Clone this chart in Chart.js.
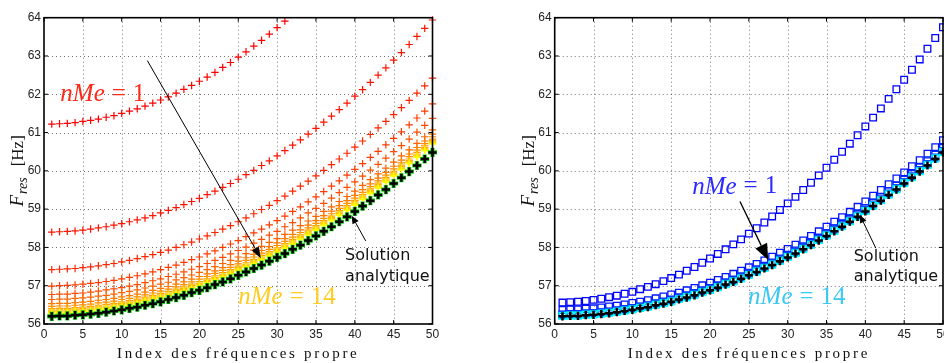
<!DOCTYPE html>
<html>
<head>
<meta charset="utf-8">
<script src="https://cdn.jsdelivr.net/npm/chart.js@4.4.0/dist/chart.umd.min.js"></script>
<style>
  html, body { margin: 0; padding: 0; background: #fff; }
  #wrap { position: relative; width: 944px; height: 363px; overflow: hidden; }
  canvas { position: absolute; top: 0; }
  #left { left: 0; }
  #right { left: 472px; }
</style>
</head>
<body>
<div id="wrap">
  <canvas id="left" width="472" height="363"></canvas>
  <canvas id="right" width="472" height="363"></canvas>
</div>
<script>
// index of the eigenfrequency (x) and the tick labels
const indices = [1,2,3,4,5,6,7,8,9,10,11,12,13,14,15,16,17,18,19,20,21,22,23,24,25,
  26,27,28,29,30,31,32,33,34,35,36,37,38,39,40,41,42,43,44,45,46,47,48,49,50];
const xTicks = [0, 5, 10, 15, 20, 25, 30, 35, 40, 45, 50];
const yTicks = [56, 57, 58, 59, 60, 61, 62, 63, 64];

// analytical solution (black +), both panels
const solution = [56.20,56.21,56.21,56.23,56.24,56.26,56.28,56.31,56.34,56.37,
  56.41,56.44,56.49,56.53,56.58,56.64,56.69,56.75,56.82,56.88,
  56.95,57.03,57.10,57.18,57.27,57.36,57.45,57.54,57.64,57.74,
  57.84,57.95,58.06,58.18,58.30,58.42,58.54,58.67,58.80,58.94,
  59.08,59.22,59.37,59.51,59.67,59.82,59.98,60.14,60.31,60.48];

// left panel : nMe = 1 .. 14
const leftMe1 = [61.22,61.23,61.24,61.26,61.29,61.32,61.35,61.40,61.44,61.50,
  61.56,61.62,61.69,61.77,61.85,61.93,62.03,62.13,62.23,62.34,
  62.45,62.57,62.70,62.83,62.97,63.11,63.26,63.41,63.57,63.74,63.91];
const leftMe2 = [58.40,58.41,58.42,58.43,58.45,58.48,58.51,58.54,58.58,58.62,
  58.67,58.72,58.77,58.83,58.90,58.97,59.04,59.12,59.20,59.28,
  59.38,59.47,59.57,59.67,59.78,59.90,60.01,60.14,60.26,60.39,
  60.53,60.67,60.81,60.96,61.11,61.27,61.43,61.60,61.77,61.95,
  62.12,62.31,62.50,62.69,62.89,63.09,63.30,63.51,63.72,63.94];
const leftMe3 = [57.42,57.43,57.44,57.45,57.47,57.49,57.52,57.55,57.58,57.62,
  57.66,57.71,57.76,57.81,57.87,57.93,58.00,58.07,58.14,58.22,
  58.30,58.39,58.48,58.57,58.67,58.77,58.88,58.99,59.10,59.22,
  59.34,59.47,59.60,59.73,59.87,60.01,60.16,60.31,60.46,60.62,
  60.78,60.95,61.12,61.29,61.47,61.65,61.84,62.03,62.22,62.42];
const leftMe4 = [56.99,57.00,57.01,57.02,57.04,57.06,57.08,57.11,57.14,57.18,
  57.22,57.26,57.31,57.36,57.42,57.48,57.54,57.61,57.68,57.75,
  57.83,57.91,58.00,58.09,58.18,58.28,58.38,58.48,58.59,58.70,
  58.82,58.94,59.06,59.19,59.32,59.46,59.60,59.74,59.89,60.04,
  60.19,60.35,60.51,60.68,60.85,61.02,61.20,61.38,61.56,61.75];
const leftMe5 = [56.77,56.78,56.78,56.80,56.81,56.83,56.86,56.89,56.92,56.95,
  56.99,57.03,57.08,57.13,57.18,57.24,57.30,57.36,57.43,57.50,
  57.58,57.66,57.74,57.83,57.92,58.01,58.11,58.21,58.32,58.42,
  58.54,58.65,58.77,58.90,59.02,59.15,59.29,59.43,59.57,59.71,
  59.86,60.02,60.17,60.33,60.50,60.66,60.83,61.01,61.19,61.37];
const leftMe6 = [56.64,56.65,56.65,56.67,56.68,56.70,56.73,56.75,56.78,56.82,
  56.85,56.89,56.94,56.99,57.04,57.09,57.15,57.21,57.28,57.35,
  57.42,57.50,57.58,57.66,57.75,57.84,57.93,58.03,58.13,58.23,
  58.34,58.45,58.57,58.69,58.81,58.94,59.06,59.20,59.33,59.47,
  59.62,59.77,59.92,60.07,60.23,60.39,60.55,60.72,60.89,61.07];
const leftMe7 = [56.53,56.54,56.54,56.56,56.57,56.59,56.62,56.64,56.67,56.71,
  56.74,56.78,56.83,56.88,56.93,56.98,57.04,57.10,57.17,57.24,
  57.31,57.39,57.47,57.55,57.64,57.73,57.82,57.92,58.02,58.12,
  58.23,58.34,58.46,58.58,58.70,58.83,58.95,59.09,59.22,59.36,
  59.51,59.66,59.81,59.96,60.12,60.28,60.44,60.61,60.78,60.96];
const leftMe8 = [56.46,56.47,56.47,56.49,56.50,56.52,56.55,56.57,56.60,56.64,
  56.67,56.71,56.76,56.81,56.86,56.91,56.97,57.03,57.10,57.17,
  57.24,57.32,57.40,57.48,57.57,57.66,57.75,57.85,57.95,58.05,
  58.16,58.27,58.39,58.51,58.63,58.76,58.88,59.02,59.15,59.29,
  59.44,59.59,59.74,59.89,60.05,60.21,60.37,60.54,60.71,60.89];
const leftMe9 = [56.40,56.41,56.41,56.43,56.44,56.46,56.49,56.51,56.54,56.58,
  56.61,56.65,56.70,56.75,56.80,56.85,56.91,56.97,57.04,57.11,
  57.18,57.26,57.34,57.42,57.51,57.60,57.69,57.79,57.89,57.99,
  58.10,58.21,58.33,58.45,58.57,58.70,58.82,58.96,59.09,59.23,
  59.38,59.53,59.68,59.83,59.99,60.15,60.31,60.48,60.65,60.83];
const leftMe10 = [56.36,56.37,56.37,56.39,56.40,56.42,56.45,56.47,56.50,56.54,
  56.57,56.61,56.66,56.71,56.76,56.81,56.87,56.93,57.00,57.07,
  57.14,57.22,57.30,57.38,57.47,57.56,57.65,57.75,57.85,57.95,
  58.06,58.17,58.29,58.41,58.53,58.66,58.78,58.92,59.05,59.19,
  59.34,59.49,59.64,59.79,59.95,60.11,60.27,60.44,60.61,60.79];
const leftMe11 = [56.33,56.34,56.34,56.36,56.37,56.39,56.42,56.44,56.47,56.51,
  56.54,56.58,56.63,56.68,56.73,56.78,56.84,56.90,56.97,57.04,
  57.11,57.19,57.27,57.35,57.44,57.53,57.62,57.72,57.82,57.92,
  58.03,58.14,58.26,58.38,58.50,58.63,58.75,58.89,59.02,59.16,
  59.31,59.46,59.61,59.76,59.92,60.08,60.24,60.41,60.58,60.76];
const leftMe12 = [56.31,56.32,56.32,56.34,56.35,56.37,56.40,56.42,56.45,56.49,
  56.52,56.56,56.61,56.66,56.71,56.76,56.82,56.88,56.95,57.02,
  57.09,57.17,57.25,57.33,57.42,57.51,57.60,57.70,57.80,57.90,
  58.01,58.12,58.24,58.36,58.48,58.61,58.73,58.87,59.00,59.14,
  59.29,59.44,59.59,59.74,59.90,60.06,60.22,60.39,60.56,60.74];
const leftMe13 = [56.29,56.30,56.30,56.32,56.33,56.35,56.38,56.40,56.43,56.47,
  56.50,56.54,56.59,56.64,56.69,56.74,56.80,56.86,56.93,57.00,
  57.07,57.15,57.23,57.31,57.40,57.49,57.58,57.68,57.78,57.88,
  57.99,58.10,58.22,58.34,58.46,58.59,58.71,58.85,58.98,59.12,
  59.27,59.42,59.57,59.72,59.88,60.04,60.20,60.37,60.54,60.72];
const leftMe14 = [56.27,56.28,56.28,56.30,56.31,56.33,56.36,56.38,56.41,56.45,
  56.48,56.52,56.57,56.62,56.67,56.72,56.78,56.84,56.91,56.98,
  57.05,57.13,57.21,57.29,57.38,57.47,57.56,57.66,57.76,57.86,
  57.97,58.08,58.20,58.32,58.44,58.57,58.69,58.83,58.96,59.10,
  59.25,59.40,59.55,59.70,59.86,60.02,60.18,60.35,60.52,60.70];

// right panel : nMe = 1 .. 14 (squares)
const rightMe1 = [56.56,56.57,56.58,56.60,56.63,56.66,56.70,56.74,56.79,56.84,
  56.91,56.97,57.04,57.12,57.20,57.29,57.39,57.49,57.60,57.71,
  57.83,57.95,58.08,58.21,58.36,58.50,58.65,58.81,58.98,59.15,
  59.32,59.50,59.69,59.88,60.08,60.29,60.50,60.71,60.93,61.16,
  61.39,61.63,61.88,62.13,62.38,62.64,62.91,63.19,63.47,63.75];
const rightMe2 = [56.37,56.38,56.38,56.40,56.41,56.43,56.46,56.48,56.51,56.55,
  56.58,56.62,56.67,56.72,56.77,56.82,56.88,56.94,57.01,57.08,
  57.15,57.23,57.31,57.39,57.48,57.57,57.66,57.76,57.86,57.96,
  58.07,58.18,58.30,58.42,58.54,58.67,58.79,58.93,59.06,59.20,
  59.35,59.50,59.65,59.80,59.96,60.12,60.28,60.45,60.62,60.80];
const rightMe3 = [56.25,56.26,56.26,56.28,56.29,56.31,56.33,56.36,56.39,56.42,
  56.46,56.49,56.54,56.59,56.64,56.70,56.75,56.81,56.88,56.94,
  57.01,57.09,57.16,57.25,57.34,57.43,57.52,57.61,57.71,57.81,
  57.92,58.03,58.14,58.26,58.38,58.50,58.63,58.76,58.89,59.03,
  59.17,59.31,59.47,59.61,59.77,59.92,60.09,60.25,60.42,60.60];
const rightMe4 = [56.24,56.25,56.25,56.27,56.28,56.30,56.32,56.35,56.38,56.41,
  56.45,56.48,56.53,56.57,56.62,56.68,56.73,56.79,56.86,56.92,
  56.99,57.07,57.14,57.22,57.31,57.40,57.49,57.58,57.68,57.78,
  57.88,57.99,58.10,58.22,58.34,58.46,58.58,58.71,58.84,58.98,
  59.12,59.26,59.41,59.55,59.71,59.86,60.02,60.18,60.35,60.52];
const rightMe8 = [56.22,56.23,56.23,56.25,56.26,56.28,56.30,56.33,56.36,56.39,
  56.43,56.46,56.51,56.55,56.60,56.66,56.71,56.77,56.84,56.90,
  56.97,57.05,57.12,57.20,57.29,57.38,57.47,57.56,57.66,57.76,
  57.86,57.97,58.08,58.20,58.32,58.44,58.56,58.69,58.82,58.96,
  59.10,59.24,59.39,59.53,59.69,59.84,60.00,60.16,60.33,60.50];
const rightMe14 = [56.21,56.22,56.22,56.24,56.25,56.27,56.29,56.32,56.35,56.38,
  56.42,56.45,56.50,56.54,56.59,56.65,56.70,56.76,56.83,56.89,
  56.96,57.04,57.11,57.19,57.28,57.37,57.46,57.55,57.65,57.75,
  57.85,57.96,58.07,58.19,58.31,58.43,58.55,58.68,58.81,58.95,
  59.09,59.23,59.38,59.52,59.68,59.83,59.99,60.15,60.32,60.49];

const leftSeries = [leftMe1, leftMe2, leftMe3, leftMe4, leftMe5, leftMe6, leftMe7,
  leftMe8, leftMe9, leftMe10, leftMe11, leftMe12, leftMe13, leftMe14];
const rightSeries = [[rightMe1, 1], [rightMe2, 2], [rightMe3, 3], [rightMe4, 4], [rightMe8, 8], [rightMe14, 14]];

// text and arrows, in data units
const notes = {
  left: [
    {type: 'math', x: 2.1, y: 62.0, val: '1', color: '#ff2a1a'},
    {type: 'arrow', from: [13.3, 62.88], to: [27.9, 57.72], len: 11, half: 4, lw: 1},
    {type: 'math', x: 25.0, y: 56.69, val: '14', color: '#ffcc22'},
    {type: 'text', x: 38.75, y: 57.78, text: 'Solution'},
    {type: 'text', x: 38.75, y: 57.24, text: 'analytique'},
    {type: 'arrow', from: [41.4, 58.17], to: [39.6, 58.83], len: 8, half: 3.5, lw: 1}
  ],
  right: [
    {type: 'math', x: 17.7, y: 59.58, val: '1', color: '#2b2bff'},
    {type: 'arrow', from: [23.86, 59.2], to: [27.49, 57.67], len: 16, half: 6.5, lw: 1.3},
    {type: 'math', x: 24.9, y: 56.69, val: '14', color: '#3cc8f5'},
    {type: 'text', x: 38.5, y: 57.76, text: 'Solution'},
    {type: 'text', x: 38.5, y: 57.24, text: 'analytique'},
    {type: 'arrow', from: [41.35, 57.98], to: [39.29, 58.85], len: 8, half: 3.5, lw: 1}
  ]
};

const points = arr => arr.map((v, i) => ({x: indices[i], y: v}));

const marker = (arr, color, style, r, w) => ({
  data: points(arr),
  showLine: false,
  clip: false,
  pointStyle: style,
  pointRadius: r,
  pointHoverRadius: r,
  pointBorderWidth: w,
  pointBorderColor: color,
  pointBackgroundColor: 'rgba(0,0,0,0)'
});

function drawArrow(ctx, x1, y1, x2, y2, len, half, lw) {
  const ang = Math.atan2(y2 - y1, x2 - x1);
  const bx = x2 - len * Math.cos(ang), by = y2 - len * Math.sin(ang);
  ctx.lineWidth = lw;
  ctx.beginPath(); ctx.moveTo(x1, y1); ctx.lineTo(bx, by); ctx.stroke();
  ctx.beginPath();
  ctx.moveTo(x2, y2);
  ctx.lineTo(bx + half * Math.sin(ang), by - half * Math.cos(ang));
  ctx.lineTo(bx - half * Math.sin(ang), by + half * Math.cos(ang));
  ctx.closePath(); ctx.fill();
}

const matlabLook = {
  id: 'matlabLook',
  beforeDatasetsDraw(chart) {
    const {ctx, chartArea: a, scales: {x, y}} = chart;
    ctx.save();
    ctx.strokeStyle = 'rgba(0,0,0,0.55)';
    ctx.lineWidth = 1;
    ctx.setLineDash([1, 3]);
    x.ticks.forEach(t => {
      if (t.value <= x.min || t.value >= x.max) return;
      const px = Math.round(x.getPixelForValue(t.value)) + 0.5;
      ctx.beginPath(); ctx.moveTo(px, a.top); ctx.lineTo(px, a.bottom); ctx.stroke();
    });
    y.ticks.forEach(t => {
      if (t.value <= y.min || t.value >= y.max) return;
      const py = Math.round(y.getPixelForValue(t.value)) + 0.5;
      ctx.beginPath(); ctx.moveTo(a.left, py); ctx.lineTo(a.right, py); ctx.stroke();
    });
    ctx.restore();
  },
  afterDatasetsDraw(chart) {
    const {ctx, chartArea: a, scales: {x, y}} = chart;
    ctx.save();
    // box and inward ticks
    ctx.strokeStyle = '#000';
    ctx.fillStyle = '#000';
    ctx.lineWidth = 1;
    x.ticks.forEach(t => {
      const px = x.getPixelForValue(t.value);
      ctx.beginPath();
      ctx.moveTo(px, a.bottom); ctx.lineTo(px, a.bottom - 4);
      ctx.moveTo(px, a.top); ctx.lineTo(px, a.top + 4);
      ctx.stroke();
    });
    y.ticks.forEach(t => {
      const py = y.getPixelForValue(t.value);
      ctx.beginPath();
      ctx.moveTo(a.left, py); ctx.lineTo(a.left + 4, py);
      ctx.moveTo(a.right, py); ctx.lineTo(a.right - 4, py);
      ctx.stroke();
    });
    ctx.lineWidth = 1.6;
    ctx.strokeRect(a.left, a.top, a.right - a.left, a.bottom - a.top);

    // x title
    ctx.fillStyle = '#111';
    ctx.font = '15px "Liberation Serif"';
    ctx.letterSpacing = '2.7px';
    ctx.textAlign = 'center';
    ctx.textBaseline = 'middle';
    ctx.fillText('Index des fréquences propre', (a.left + a.right) / 2, a.bottom + 30);
    ctx.letterSpacing = '0px';

    // y title : F_res [Hz]
    ctx.save();
    ctx.translate(a.left - 21, (a.top + a.bottom) / 2);
    ctx.rotate(-Math.PI / 2);
    ctx.textAlign = 'left';
    ctx.textBaseline = 'alphabetic';
    const fF = 'italic 19px "Liberation Serif"', fS = 'italic 14px "Liberation Serif"', fH = '17px "Liberation Serif"';
    ctx.font = fF; const wF = ctx.measureText('F').width;
    ctx.font = fS; const wS = ctx.measureText('res').width;
    ctx.font = fH; const wH = ctx.measureText('[Hz]').width;
    const gap = 11;
    let sx = -(wF + 1 + wS + gap + wH) / 2;
    ctx.font = fF; ctx.fillText('F', sx, 0);
    ctx.font = fS; ctx.fillText('res', sx + wF + 1, 4);
    ctx.font = fH; ctx.fillText('[Hz]', sx + wF + 1 + wS + gap, 0);
    ctx.restore();

    // notes
    (notes[chart.canvas.id] || []).forEach(n => {
      if (n.type === 'math') {
        const px = x.getPixelForValue(n.x), py = y.getPixelForValue(n.y);
        ctx.fillStyle = n.color;
        ctx.textAlign = 'left';
        ctx.textBaseline = 'middle';
        ctx.font = 'italic 25px "Liberation Serif"';
        ctx.fillText('nMe', px, py);
        let cx = px + ctx.measureText('nMe').width + 7;
        ctx.font = '25px "Liberation Serif"';
        ctx.fillText('=', cx, py);
        cx += ctx.measureText('=').width + 7;
        ctx.fillText(n.val, cx, py);
      } else if (n.type === 'text') {
        ctx.fillStyle = '#111';
        ctx.textAlign = 'left';
        ctx.textBaseline = 'middle';
        ctx.font = '16px "DejaVu Sans"';
        ctx.fillText(n.text, x.getPixelForValue(n.x), y.getPixelForValue(n.y));
      } else if (n.type === 'arrow') {
        ctx.strokeStyle = '#000';
        ctx.fillStyle = '#000';
        drawArrow(ctx,
          x.getPixelForValue(n.from[0]), y.getPixelForValue(n.from[1]),
          x.getPixelForValue(n.to[0]), y.getPixelForValue(n.to[1]),
          n.len, n.half, n.lw);
      }
    });
    ctx.restore();
  }
};

function makeChart(id, datasets, padLeft, padRight) {
  // Chart.js paints dataset 0 last (on top), so hand them over in reverse
  return new Chart(document.getElementById(id), {
    type: 'scatter',
    data: {datasets: datasets.slice().reverse()},
    plugins: [matlabLook],
    options: {
      responsive: false,
      animation: false,
      events: [],
      layout: {autoPadding: false, padding: {left: padLeft, right: padRight, top: 17.7, bottom: 0}},
      plugins: {legend: {display: false}, tooltip: {enabled: false}},
      scales: {
        x: {
          type: 'linear', min: 0, max: 50,
          afterBuildTicks: s => { s.ticks = xTicks.map(v => ({value: v})); },
          afterFit: s => { s.height = 39; s.paddingLeft = 0; s.paddingRight = 0; },
          grid: {display: false, drawTicks: false},
          border: {display: false},
          ticks: {padding: 3, color: '#222', maxRotation: 0, autoSkip: false,
                  font: {family: 'Liberation Sans', size: 12}}
        },
        y: {
          type: 'linear', min: 56, max: 64,
          afterBuildTicks: s => { s.ticks = yTicks.map(v => ({value: v})); },
          afterFit: s => { s.width = 44; s.paddingTop = 0; s.paddingBottom = 0; },
          grid: {display: false, drawTicks: false},
          border: {display: false},
          ticks: {padding: 3, color: '#222', autoSkip: false,
                  font: {family: 'Liberation Sans', size: 12}}
        }
      }
    }
  });
}

// left : + markers, red (nMe=1) to yellow (nMe=14), solution drawn last
const leftSets = leftSeries.map((arr, i) =>
  marker(arr, 'rgb(255,' + Math.round(255 * i / 13) + ',0)', 'cross', 3.7, 1.2));
leftSets.push(marker(solution, '#22cc22', 'cross', 4.6, 4.2));
leftSets.push(marker(solution, '#000', 'cross', 4.1, 2.5));
makeChart('left', leftSets, 0, 39.5);

// right : squares, blue (nMe=1) to cyan (nMe=14), solution drawn last
const rightSets = rightSeries.map(([arr, k]) =>
  marker(arr, 'rgb(0,' + Math.round(255 * (k - 1) / 13) + ',255)', 'rect', 4.7, 1.3));
rightSets.push(marker(solution, '#000', 'cross', 4.1, 2.5));
makeChart('right', rightSets, 38.7, 1);
</script>
</body>
</html>
